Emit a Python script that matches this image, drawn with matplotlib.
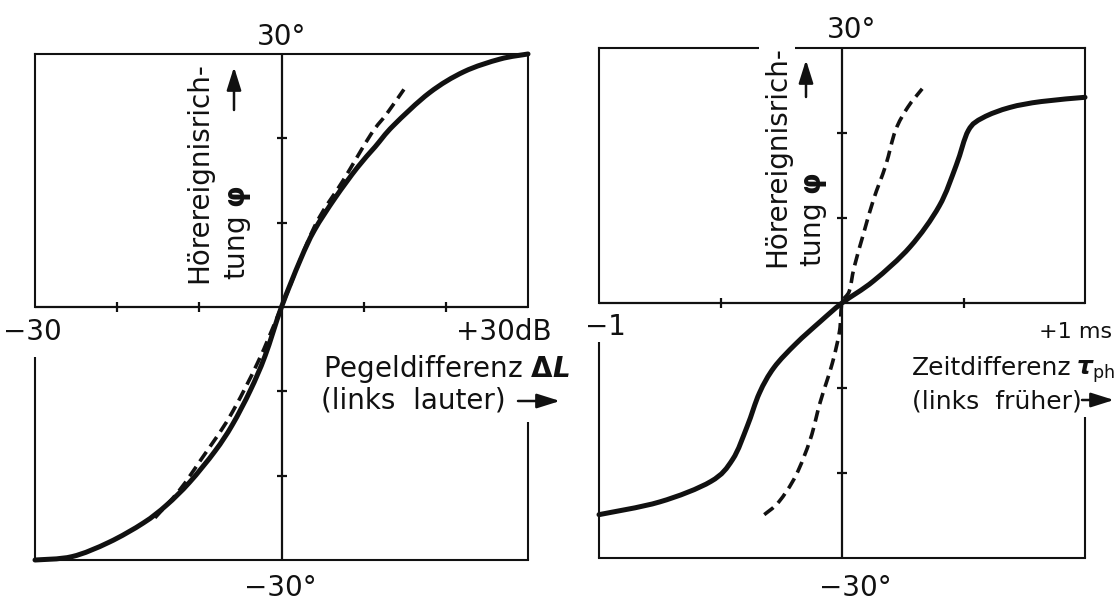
import matplotlib
matplotlib.use("Agg")
import matplotlib.pyplot as plt
from matplotlib.path import Path
from matplotlib.patches import PathPatch

W, H = 1115, 601
plt.rcParams['font.family'] = ['DejaVu Sans']
plt.rcParams['mathtext.fontset'] = 'dejavusans'
INK = '#111111'

# Hörereignisrichtung (Grad) über Pegeldifferenz (dB)
level_db = [-30, -25.5, -21, -16.8, -14, -11.2, -8.1, -6, -3.8, -2, 0,
            2.3, 4.0, 6.5, 9.2, 11.4, 13.6, 18.0, 22.2, 26.6, 30]
level_deg = [-30, -29.6, -27.9, -25.6, -23.5, -20.8, -17.1, -14.0, -9.9, -5.8, 0,
             5.6, 9.1, 12.9, 16.5, 19.0, 21.5, 25.4, 27.9, 29.4, 30]
level_dash_db = [-15.4, -12.4, -9.8, -6.3, -2.9, 0, 4.0, 7.5, 10.9, 12.8, 14.9]
level_dash_deg = [-25.0, -21.7, -18.1, -13.0, -6.6, 0, 9.5, 15.0, 20.5, 22.9, 25.8]

# Hörereignisrichtung (Grad) über Zeitdifferenz (ms)
time_ms = [-1.0, -0.75, -0.54, -0.45, -0.39, -0.34, -0.28, -0.19, -0.09, 0,
           0.13, 0.28, 0.40, 0.47, 0.52, 0.58, 0.69, 0.82, 1.0]
time_deg = [-24.9, -23.4, -21.0, -18.4, -14.5, -10.6, -7.6, -4.8, -2.2, 0,
            2.6, 6.6, 11.4, 16.2, 20.3, 21.8, 23.0, 23.7, 24.2]
time_dash_ms = [-0.32, -0.26, -0.19, -0.13, -0.09, -0.04, -0.01, 0,
                0.03, 0.05, 0.09, 0.13, 0.18, 0.22, 0.27, 0.33]
time_dash_deg = [-24.9, -23.4, -20.3, -16.0, -11.7, -7.1, -3.3, 0,
                 1.4, 4.2, 8.3, 12.2, 16.2, 20.3, 23.0, 25.2]

level_xticks = [-20, -10, 10, 20]
time_xticks = [-0.5, 0.5]
deg_ticks = [-20, -10, 10, 20]

fig = plt.figure(figsize=(W / 100, H / 100), dpi=100)
fig.patch.set_facecolor('white')


def smooth_path(xs, ys):
    """Bezier path passing through every given point (Catmull-Rom tangents)."""
    pts = list(zip(xs, ys))
    n = len(pts)
    verts = [pts[0]]
    codes = [Path.MOVETO]
    for i in range(n - 1):
        p0 = pts[i - 1] if i > 0 else pts[i]
        p1 = pts[i]
        p2 = pts[i + 1]
        p3 = pts[i + 2] if i + 2 < n else pts[i + 1]
        c1 = (p1[0] + (p2[0] - p0[0]) / 6, p1[1] + (p2[1] - p0[1]) / 6)
        c2 = (p2[0] - (p3[0] - p1[0]) / 6, p2[1] - (p3[1] - p1[1]) / 6)
        verts += [c1, c2, p2]
        codes += [Path.CURVE4] * 3
    return Path(verts, codes)


def draw_curve(ax, xs, ys, dashed=False):
    if dashed:
        patch = PathPatch(smooth_path(xs, ys), facecolor='none', edgecolor=INK,
                          lw=2.6, linestyle=(0, (3.2, 1.8)), capstyle='butt')
    else:
        patch = PathPatch(smooth_path(xs, ys), facecolor='none', edgecolor=INK,
                          lw=3.6, capstyle='round', joinstyle='round')
    patch.set_clip_on(False)
    ax.add_patch(patch)


def make_panel(left, top, right, bottom, xmax, xticks, gap_left, gap_right):
    ax = fig.add_axes([left / W, 1 - bottom / H, (right - left) / W, (bottom - top) / H])
    ax.set_xlim(-xmax, xmax)
    ax.set_ylim(-30, 30)
    ax.set_xticks([])
    ax.set_yticks([])
    ax.patch.set_alpha(0)
    for s in ax.spines.values():
        s.set_linewidth(1.5)
        s.set_color(INK)
    # frame sides are interrupted below the zero line where the labels sit
    ax.spines['left'].set_bounds(0, 30)
    ax.spines['right'].set_bounds(0, 30)
    ax.plot([-xmax, -xmax], [-30, gap_left], color=INK, lw=1.5, clip_on=False,
            solid_capstyle='butt')
    ax.plot([xmax, xmax], [-30, gap_right], color=INK, lw=1.5, clip_on=False,
            solid_capstyle='butt')
    ax.axhline(0, color=INK, lw=1.6)
    ax.axvline(0, color=INK, lw=1.6)
    ax.plot(xticks, [0] * len(xticks), ls='none', marker='|', ms=7, mew=1.6, color=INK)
    ax.plot([0] * len(deg_ticks), deg_ticks, ls='none', marker='_', ms=7, mew=1.6, color=INK)
    return ax


ax1 = make_panel(35, 54, 528, 560, 30, level_xticks, -5.9, -13.6)
ax2 = make_panel(599, 48, 1085, 558, 1.0, time_xticks, -4.6, -13.4)

draw_curve(ax1, level_db, level_deg)
draw_curve(ax1, level_dash_db, level_dash_deg, dashed=True)
draw_curve(ax2, time_ms, time_deg)
draw_curve(ax2, time_dash_ms, time_dash_deg, dashed=True)

# overlay in pixel coordinates for labels and arrows
ov = fig.add_axes([0, 0, 1, 1], zorder=10)
ov.set_xlim(0, W)
ov.set_ylim(H, 0)
ov.axis('off')

arrow = dict(arrowstyle='-|>,head_length=0.7,head_width=0.22', lw=1.8, color=INK,
             mutation_scale=20, shrinkA=0, shrinkB=0)
white = dict(facecolor='white', edgecolor='none', pad=3)


def label(x, y, s, size=20, ha='left', **kw):
    ov.text(x, y, s, fontsize=size, ha=ha, va='baseline', color=INK, **kw)


def ylabel(xb1, y1, xb2, y2, xa, ya0, ya1):
    ov.text(xb1, y1, 'Hörereignisrich-', fontsize=20, rotation=90, rotation_mode='anchor',
            ha='left', va='baseline', color=INK, bbox=white)
    ov.text(xb2, y2, r'tung $\boldsymbol{\varphi}$', fontsize=20, rotation=90,
            rotation_mode='anchor', ha='left', va='baseline', color=INK)
    ov.annotate('', xy=(xa, ya1), xytext=(xa, ya0), arrowprops=arrow)


# left panel
label(282, 45, '30°', ha='center')
label(280, 596, '−30°', ha='center')
label(32, 340, '−30', ha='center')
label(552, 340, '+30dB', ha='right')
label(323, 377, r'Pegeldifferenz $\boldsymbol{\Delta L}$')
label(321, 409, '(links  lauter)')
ov.annotate('', xy=(560, 401), xytext=(518, 401), arrowprops=arrow)
ylabel(207, 283, 245, 280, 234, 110, 67)

# right panel
label(852, 38, '30°', ha='center')
label(855, 596, '−30°', ha='center')
label(605, 335, '−1', ha='center')
label(1112, 338, '+1 ms', size=16, ha='right')
label(912, 375, 'Zeitdifferenz', size=18)
label(1076, 375, r'$\boldsymbol{\tau}_{\mathrm{ph}}$', size=18)
label(912, 409, '(links  früher)', size=18)
ov.annotate('', xy=(1114, 400), xytext=(1082, 400), arrowprops=arrow)
ylabel(785, 267, 821, 267, 806, 97, 60)

fig.savefig('out.png', dpi=100, facecolor='white')
